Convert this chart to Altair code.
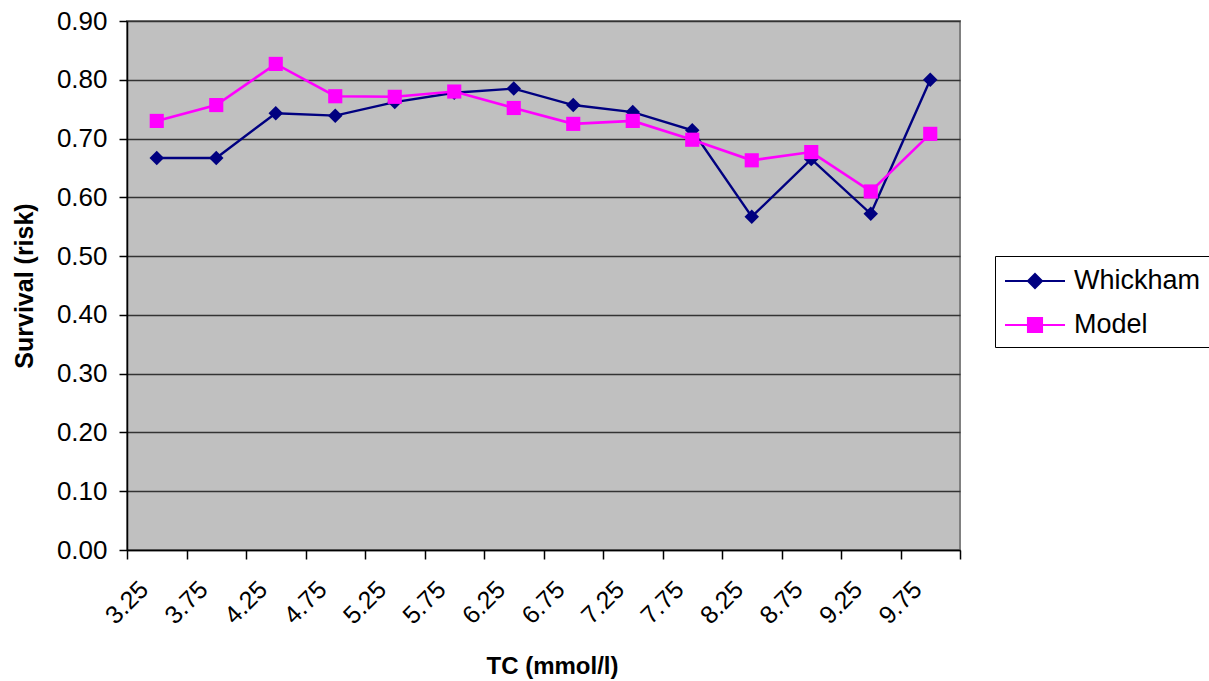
import altair as alt
import pandas as pd

tc = ["3.25", "3.75", "4.25", "4.75", "5.25", "5.75", "6.25",
      "6.75", "7.25", "7.75", "8.25", "8.75", "9.25", "9.75"]
whickham = [0.667, 0.667, 0.743, 0.739, 0.762, 0.778, 0.785,
            0.757, 0.745, 0.714, 0.567, 0.665, 0.572, 0.800]
model = [0.730, 0.757, 0.827, 0.772, 0.771, 0.780, 0.752,
         0.725, 0.730, 0.698, 0.663, 0.677, 0.610, 0.708]
series_names = ["Whickham", "Model"]
series_colors = ["#000080", "#FF00FF"]
y_ticks = [0.0, 0.1, 0.2, 0.3, 0.4, 0.5, 0.6, 0.7, 0.8, 0.9]

rows = []
for name, vals in zip(series_names, [whickham, model]):
    for t, v in zip(tc, vals):
        rows.append({"tc": t, "value": v, "series": name})
df = pd.DataFrame(rows)

FONT = "Liberation Sans"

legend = alt.Legend(
    title=None, orient="none", legendX=868, legendY=235,
    fillColor="white", strokeColor="#000000", padding=9,
    labelFontSize=27, labelFont=FONT, labelColor="black",
    labelOffset=38, rowPadding=15, symbolSize=900,
    symbolStrokeWidth=2, symbolOpacity=1,
)

color = alt.Color("series:N", scale=alt.Scale(domain=series_names, range=series_colors),
                  legend=legend)

x = alt.X("tc:N", sort=tc,
          scale=alt.Scale(type="band", paddingInner=0, paddingOuter=0),
          axis=alt.Axis(tickBand="extent", grid=False, labelAngle=-45,
                        labelAlign="right", labelBaseline="middle",
                        labelOffset=-13, labelPadding=26, tickSize=9,
                        labelFontSize=25, labelFont=FONT, labelColor="black",
                        title="TC (mmol/l)", titleFontSize=24, titleFont=FONT,
                        titleFontWeight="bold", titleColor="black",
                        titleX=425, titleY=116, titleBaseline="middle",
                        titleAlign="center"))
y = alt.Y("value:Q", scale=alt.Scale(domain=[0, 0.9], nice=False, zero=True),
          axis=alt.Axis(values=y_ticks, format=".2f", grid=True,
                        gridColor="#333333", gridWidth=1.5, tickSize=8,
                        labelFontSize=26, labelFont=FONT, labelColor="black",
                        labelPadding=12,
                        title="Survival (risk)", titleFontSize=25, titleFont=FONT,
                        titleFontWeight="bold", titleColor="black",
                        titleX=-103, titleY=264.5, titleAngle=270,
                        titleBaseline="middle", titleAlign="center"))

base = alt.Chart(df).encode(x=x, y=y, color=color)

w_line = base.transform_filter(alt.datum.series == "Whickham").mark_line(strokeWidth=2.4)
w_pts = base.transform_filter(alt.datum.series == "Whickham").mark_point(
    shape="diamond", filled=True, size=210, opacity=1)
m_line = base.transform_filter(alt.datum.series == "Model").mark_line(strokeWidth=2.6)
m_pts = base.transform_filter(alt.datum.series == "Model").mark_point(
    shape="square", filled=True, size=200, opacity=1)

legend_paths = [
    "M-1,0H3M1,-0.47L1.47,0L1,0.47L0.53,0Z",
    "M-1,0H3M0.53,-0.47H1.47V0.47H0.53Z",
]
legend_layer = base.transform_filter("false").mark_point(
    filled=True, opacity=1, strokeWidth=2).encode(
    shape=alt.Shape("series:N", scale=alt.Scale(domain=series_names, range=legend_paths),
                    legend=legend))

chart = alt.layer(w_line, w_pts, m_line, m_pts, legend_layer).properties(
    width=833, height=529,
    padding={"left": 127, "top": 21, "right": 249, "bottom": 131},
    autosize=alt.AutoSizeParams(type="none"),
    background="white",
).configure_view(
    fill="#C0C0C0", stroke="#808080", strokeWidth=2
).configure_axis(
    domainColor="#000000", domainWidth=1.5, tickColor="#000000", tickWidth=1.5
)

chart.save("out.html", embed_options={"renderer": "svg", "actions": False})
